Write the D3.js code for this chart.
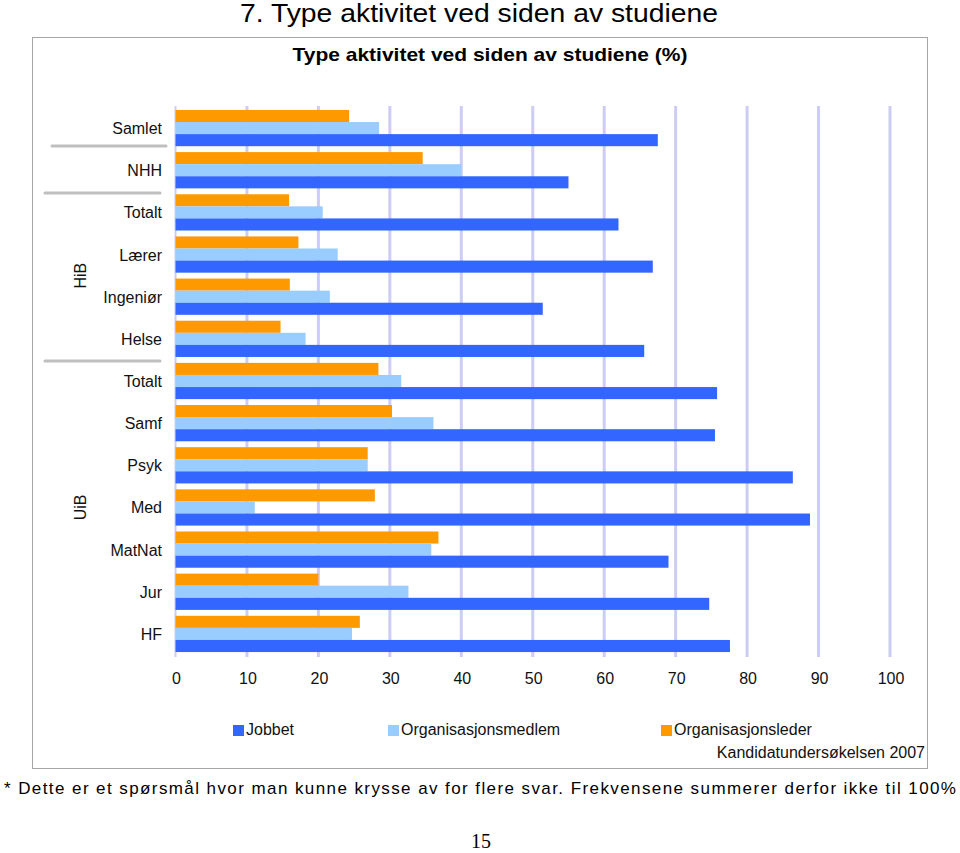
<!DOCTYPE html>
<html><head><meta charset="utf-8">
<script src="https://cdn.jsdelivr.net/npm/d3@7/dist/d3.min.js"></script>
<style>body{margin:0;background:#fff}svg{display:block}</style>
</head><body>
<script>
const categories = ["Samlet","NHH","HiB Totalt","Lærer","Ingeniør","Helse","UiB Totalt","Samf","Psyk","Med","MatNat","Jur","HF"];
const categoryLabels = ["Samlet","NHH","Totalt","Lærer","Ingeniør","Helse","Totalt","Samf","Psyk","Med","MatNat","Jur","HF"];
const jobbet = [67.5,55.0,62.0,66.8,51.4,65.6,75.8,75.5,86.4,88.8,69.0,74.7,77.6];
const organisasjonsmedlem = [28.5,40.0,20.6,22.7,21.6,18.2,31.6,36.1,26.9,11.1,35.8,32.6,24.7];
const organisasjonsleder = [24.3,34.6,15.9,17.2,16.0,14.7,28.4,30.3,26.9,27.9,36.8,20.0,25.8];
const seriesNames = ["Jobbet","Organisasjonsmedlem","Organisasjonsleder"];
const ticks = [0,10,20,30,40,50,60,70,80,90,100];
const groups = [{name:"HiB", from:"HiB Totalt", to:"Helse"},{name:"UiB", from:"UiB Totalt", to:"HF"}];

const W=960,H=853;
const svg=d3.select("body").append("svg").attr("width",W).attr("height",H);
const font="Liberation Sans, Arial, sans-serif";
const colors={"Jobbet":"#3366ff","Organisasjonsmedlem":"#99ccff","Organisasjonsleder":"#ff9900"};

// page title
svg.append("text").attr("x",479).attr("y",22).attr("text-anchor","middle")
  .attr("font-family",font).attr("font-size",25)
  .attr("textLength",478).attr("lengthAdjust","spacingAndGlyphs").text("7. Type aktivitet ved siden av studiene");

// outer box
svg.append("rect").attr("x",32.5).attr("y",37.5).attr("width",895).attr("height",731)
  .attr("fill","none").attr("stroke","#a6a6a6").attr("stroke-width",1);

svg.append("text").attr("x",490).attr("y",61).attr("text-anchor","middle")
  .attr("font-family",font).attr("font-weight","bold").attr("font-size",19)
  .attr("textLength",395).attr("lengthAdjust","spacingAndGlyphs").text("Type aktivitet ved siden av studiene (%)");

const x=d3.scaleLinear().domain([0,100]).range([175.5,890]);
const y=d3.scaleBand().domain(categories).range([107,655]).paddingInner(0.14).paddingOuter(0.07);
const order=["Organisasjonsleder","Organisasjonsmedlem","Jobbet"];
const y1=d3.scaleBand().domain(order).range([0,y.bandwidth()]);

// gridlines
svg.append("g").selectAll("line").data(ticks).join("line")
  .attr("x1",d=>x(d)).attr("x2",d=>x(d)).attr("y1",106).attr("y2",657)
  .attr("stroke","#ccccf5").attr("stroke-width",d=>d===0?2:3);

const data=categories.map((c,i)=>({cat:c,label:categoryLabels[i],vals:{"Jobbet":jobbet[i],"Organisasjonsmedlem":organisasjonsmedlem[i],"Organisasjonsleder":organisasjonsleder[i]}}));

const g=svg.append("g").selectAll("g").data(data).join("g").attr("transform",d=>`translate(0,${y(d.cat)})`);
g.selectAll("rect").data(d=>order.map(k=>({k,v:d.vals[k]}))).join("rect")
  .attr("x",x(0)).attr("y",d=>y1(d.k)).attr("height",y1.bandwidth())
  .attr("width",d=>x(d.v)-x(0)).attr("fill",d=>colors[d.k]);

// category labels
svg.append("g").selectAll("text").data(data).join("text")
  .attr("x",162).attr("y",d=>y(d.cat)+y.bandwidth()/2+6).attr("text-anchor","end")
  .attr("font-family",font).attr("font-size",16).attr("fill","#111").text(d=>d.label);

// separator lines
const sep=[[52,166,146],[45,160,193],[45,160,361]];
svg.append("g").selectAll("line").data(sep).join("line")
  .attr("x1",d=>d[0]).attr("x2",d=>d[1]).attr("y1",d=>d[2]).attr("y2",d=>d[2])
  .attr("stroke","#bfbfbf").attr("stroke-width",3).attr("stroke-linecap","round");

// group labels
groups.forEach(gr=>{
  const cy=(y(gr.from)+y(gr.to)+y.bandwidth())/2;
  svg.append("text").attr("transform",`translate(86,${cy}) rotate(-90)`).attr("text-anchor","middle")
    .attr("font-family",font).attr("font-size",16).attr("fill","#111").text(gr.name);
});

// x axis labels
svg.append("g").selectAll("text").data(ticks).join("text")
  .attr("x",d=>x(d)+1).attr("y",684).attr("text-anchor","middle")
  .attr("font-family",font).attr("font-size",16).attr("fill","#111").text(d=>d);

// legend
const legX=[233,388,661];
const leg=svg.append("g").selectAll("g").data(seriesNames).join("g").attr("transform",(d,i)=>`translate(${legX[i]},723)`);
leg.append("rect").attr("x",0).attr("y",2).attr("width",11).attr("height",11).attr("fill",d=>colors[d]);
leg.append("text").attr("x",13).attr("y",12).attr("font-family",font).attr("font-size",16).attr("fill","#111").text(d=>d);

svg.append("text").attr("x",925).attr("y",758).attr("text-anchor","end")
  .attr("font-family",font).attr("font-size",16).attr("fill","#111").text("Kandidatundersøkelsen 2007");

svg.append("text").attr("x",4).attr("y",794)
  .attr("font-family",font).attr("font-size",17)
  .attr("textLength",952).attr("lengthAdjust","spacing")
  .text("* Dette er et spørsmål hvor man kunne krysse av for flere svar. Frekvensene summerer derfor ikke til 100%");

svg.append("text").attr("x",481).attr("y",848).attr("text-anchor","middle")
  .attr("font-family","Liberation Serif, serif").attr("font-size",20).text("15");
</script>
</body></html>
